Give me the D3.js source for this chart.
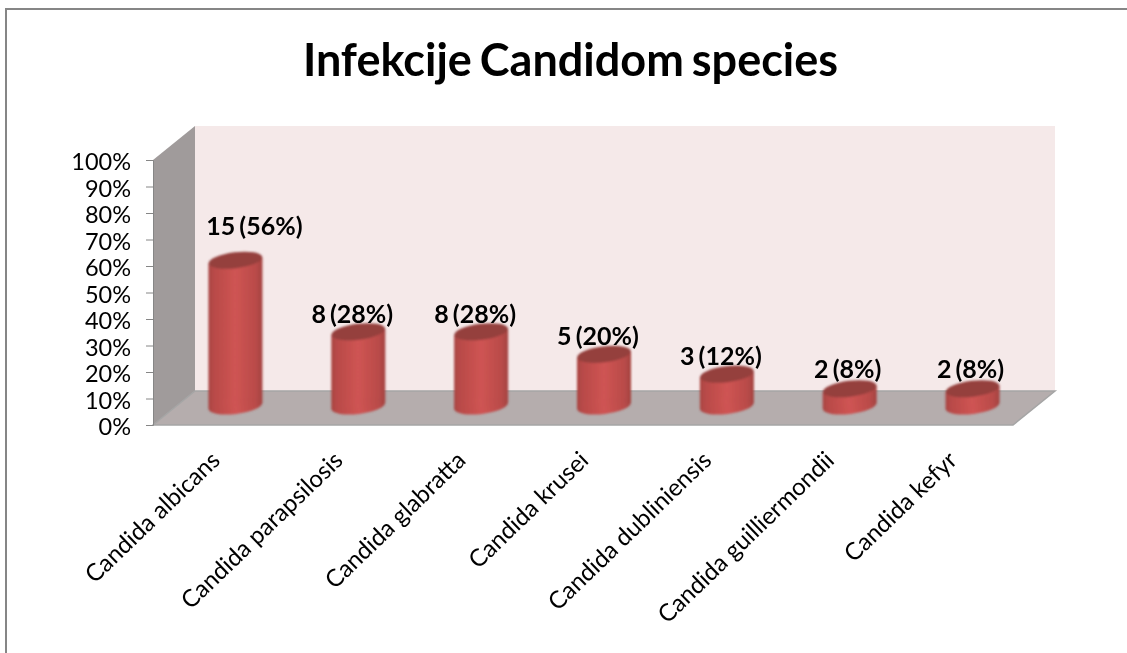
<!DOCTYPE html>
<html>
<head>
<meta charset="utf-8">
<script src="https://cdn.jsdelivr.net/npm/d3@7"></script>
<style>
html, body { margin: 0; padding: 0; background: #fff; }
svg { display: block; }
text { font-family: Lato, "Open Sans", sans-serif; fill: #000; }
</style>
</head>
<body>
<svg id="chart" width="1127" height="653"></svg>
<script>
var categories = ["Candida albicans", "Candida parapsilosis", "Candida glabratta", "Candida krusei",
    "Candida dubliniensis", "Candida guilliermondii", "Candida kefyr"];
// bar height as drawn, in percent
var heights = [55, 28, 28, 19.5, 12, 6.5, 6.5];
var labels = ["15 (56%)", "8 (28%)", "8 (28%)", "5 (20%)", "3 (12%)", "2 (8%)", "2 (8%)"];
var ticks = [0, 10, 20, 30, 40, 50, 60, 70, 80, 90, 100];

var svg = d3.select("#chart");
var defs = svg.append("defs");

// front plane of the 3d box
var left = 153, right = 1013, bottom = 425, top_ = 160;
var depthX = 42, depthY = -34;

var x = d3.scaleBand().domain(categories).range([left, right]);
var y = d3.scaleLinear().domain([0, 100]).range([bottom, top_]);

var barGrad = defs.append("linearGradient").attr("id", "bar");
[[0, "#a84442"], [0.1, "#b84a48"], [0.5, "#cf5453"], [0.88, "#b94b49"], [1, "#a34240"]].forEach(s => {
    barGrad.append("stop").attr("offset", s[0]).attr("stop-color", s[1]);
});
defs.append("filter").attr("id", "soft").append("feGaussianBlur").attr("stdDeviation", 0.9);
defs.append("filter").attr("id", "textsoft").append("feGaussianBlur").attr("stdDeviation", 0.35);

// frame, runs off the picture at the right and the bottom
svg.append("path").attr("fill", "none").attr("stroke", "#868686").attr("stroke-width", 2)
    .attr("d", d3.line()([[6, 653], [6, 9], [1127, 9]]));

svg.append("text").attr("x", 570.5).attr("y", 76).attr("text-anchor", "middle")
    .attr("filter", "url(#textsoft)")
    .style("font-size", "45px").style("font-weight", 700).style("word-spacing", "-3px")
    .text("Infekcije Candidom species");

// walls
var box = svg.append("g");
box.append("path").attr("fill", "#f5e9e9")
    .attr("d", d3.line()([[left + depthX, y(100) + depthY], [right + depthX, y(100) + depthY], [right + depthX, y(0) + depthY], [left + depthX, y(0) + depthY]]));
box.append("path").attr("fill", "#a09b9b")
    .attr("d", d3.line()([[left, y(100)], [left + depthX, y(100) + depthY], [left + depthX, y(0) + depthY], [left, y(0)]]));
box.append("path").attr("fill", "#b5adad").attr("stroke", "#a5a5a5").attr("stroke-width", 1.5)
    .attr("d", d3.line()([[left, y(0)], [left + depthX, y(0) + depthY], [right + depthX, y(0) + depthY], [right, y(0)]]) + "Z");

// y axis
var axis = svg.append("g").attr("transform", "translate(" + left + ",0)")
    .call(d3.axisLeft(y).tickValues(ticks).tickSize(7).tickPadding(15).tickFormat(d => d + "%"));
axis.select(".domain").attr("stroke", "#868686").attr("stroke-width", 1);
axis.selectAll("line").attr("stroke", "#868686");
axis.selectAll("text").style("font-size", "23.5px").attr("dy", "0.42em").attr("filter", "url(#textsoft)");

// cylinders
var rx = 27, ry = 8, tilt = -7;
var baseY = y(0) + depthY / 2 - 2;
var bars = svg.append("g").attr("filter", "url(#soft)").selectAll("g").data(categories).join("g")
    .attr("transform", d => "translate(" + (x(d) + x.bandwidth() / 2 + depthX / 2) + "," + baseY + ")");
var barH = i => y(0) - y(heights[i]);
bars.append("path").attr("fill", "url(#bar)")
    .attr("d", (d, i) => d3.line()([[-rx, -barH(i) + 3], [-rx, 3], [rx, -3], [rx, -barH(i) - 3]]));
bars.append("ellipse").attr("rx", rx).attr("ry", ry).attr("fill", "url(#bar)")
    .attr("transform", "rotate(" + tilt + ")");
bars.append("ellipse").attr("rx", rx).attr("ry", ry).attr("fill", "#95403e")
    .attr("transform", (d, i) => "translate(0," + (-barH(i)) + ") rotate(" + tilt + ")");

// value labels, the first one sits right of its bar, the others a bit left
svg.append("g").attr("filter", "url(#textsoft)").selectAll("text").data(categories).join("text")
    .attr("x", (d, i) => x(d) + x.bandwidth() / 2 + depthX / 2 + (i == 0 ? 19 : i > 4 ? -2 : -6))
    .attr("y", (d, i) => baseY - barH(i) - (i == 0 ? 25 : i > 4 ? 11 : 9))
    .attr("text-anchor", "middle")
    .style("font-size", "25px").style("font-weight", 700).style("word-spacing", "-2px")
    .text((d, i) => labels[i]);

// category labels
svg.append("g").attr("filter", "url(#textsoft)").selectAll("text").data(categories).join("text")
    .attr("text-anchor", "end")
    .attr("transform", d => "translate(" + (x(d) + x.bandwidth() / 2 + 7) + ",462) rotate(-44)")
    .style("font-size", "24px")
    .text(d => d);
</script>
</body>
</html>
